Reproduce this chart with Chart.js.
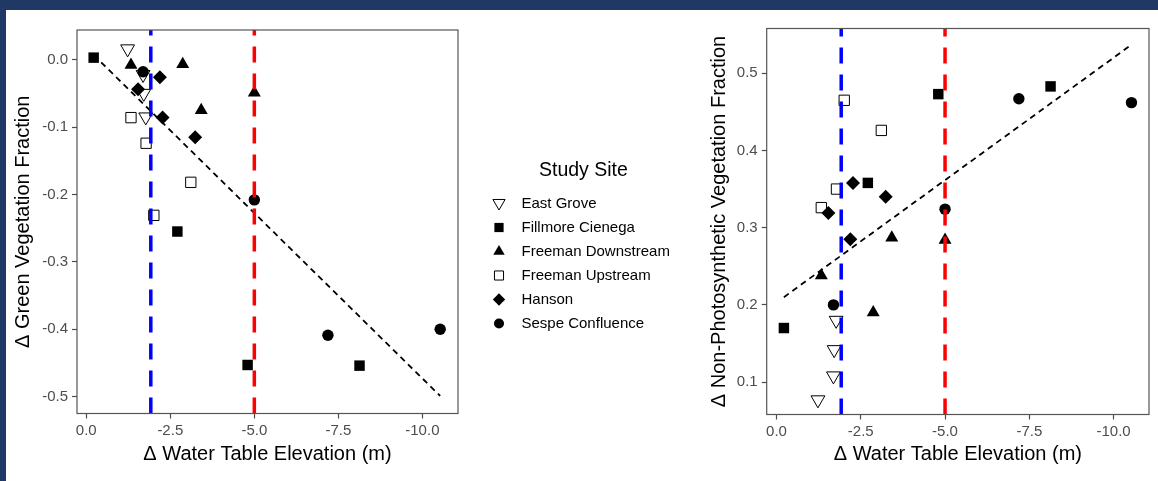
<!DOCTYPE html>
<html>
<head>
<meta charset="utf-8">
<script src="https://cdn.jsdelivr.net/npm/chart.js@4.4.1/dist/chart.umd.min.js"></script>
<style>
  html, body { margin: 0; padding: 0; background: #1F3864; }
  #page { position: absolute; left: 0; top: 0; width: 1158px; height: 481px; background: #1F3864; overflow: hidden; }
  #sheet { position: absolute; left: 6px; top: 10px; width: 1152px; height: 471px; background: #ffffff; }
  canvas { position: absolute; top: 0; }
  #graficoGV { left: 0; }
  #graficoNPV { left: 690px; }
</style>
</head>
<body>
<div id="page">
  <div id="sheet"></div>
  <canvas id="graficoGV" width="690" height="481"></canvas>
  <canvas id="graficoNPV" width="468" height="481"></canvas>
</div>
<script>
// dados (variação do nível freático, m)
const sites = ['East Grove', 'Fillmore Cienega', 'Freeman Downstream', 'Freeman Upstream', 'Hanson', 'Sespe Confluence'];

const xEastGrove = [-1.23, -1.69, -1.71, -1.77];
const xFillmore = [-0.22, -2.71, -4.80, -8.13];
const xFreemanDown = [-1.33, -2.87, -3.42, -5.00];
const xFreemanUp = [-1.33, -1.78, -2.01, -3.11];
const xHanson = [-1.54, -2.19, -2.27, -3.24];
const xSespe = [-1.69, -5.00, -7.19, -10.53];

// Δ Green Vegetation Fraction
const gvEastGrove = [0.016, -0.022, -0.050, -0.085];
const gvFillmore = [0.003, -0.255, -0.453, -0.454];
const gvFreemanDown = [-0.008, -0.007, -0.075, -0.049];
const gvFreemanUp = [-0.086, -0.124, -0.231, -0.182];
const gvHanson = [-0.044, -0.026, -0.086, -0.115];
const gvSespe = [-0.018, -0.208, -0.409, -0.400];

// Δ Non-Photosynthetic Vegetation Fraction
const npvEastGrove = [0.077, 0.108, 0.142, 0.180];
const npvFillmore = [0.170, 0.358, 0.473, 0.483];
const npvFreemanDown = [0.238, 0.190, 0.287, 0.284];
const npvFreemanUp = [0.326, 0.350, 0.465, 0.426];
const npvHanson = [0.319, 0.285, 0.358, 0.340];
const npvSespe = [0.200, 0.324, 0.467, 0.462];

// linhas de tendência (extremos)
const fitX = [-0.22, -10.53];
const gvFitY = [0.007, -0.499];
const npvFitY = [0.210, 0.537];

// limiares verticais
const thresholds = [-1.92, -5.0];

const xTicks = [0, -2.5, -5, -7.5, -10];
const gvTicks = [0, -0.1, -0.2, -0.3, -0.4, -0.5];
const npvTicks = [0.1, 0.2, 0.3, 0.4, 0.5];

const FONTE = "'Liberation Sans', Arial, sans-serif";
const CINZA = '#4d4d4d';

const siteX = [xEastGrove, xFillmore, xFreemanDown, xFreemanUp, xHanson, xSespe];
const siteGV = [gvEastGrove, gvFillmore, gvFreemanDown, gvFreemanUp, gvHanson, gvSespe];
const siteNPV = [npvEastGrove, npvFillmore, npvFreemanDown, npvFreemanUp, npvHanson, npvSespe];

const estilos = [
    { pointStyle: 'triangle', rotation: 180, radius: 8, fill: 'rgba(0,0,0,0)', borderWidth: 1 },
    { pointStyle: 'rect', rotation: 0, radius: 7.4, fill: '#000', borderWidth: 0 },
    { pointStyle: 'triangle', rotation: 0, radius: 7.5, fill: '#000', borderWidth: 0 },
    { pointStyle: 'rect', rotation: 0, radius: 7.3, fill: 'rgba(0,0,0,0)', borderWidth: 1 },
    { pointStyle: 'rectRot', rotation: 0, radius: 7, fill: '#000', borderWidth: 0 },
    { pointStyle: 'circle', rotation: 0, radius: 5.7, fill: '#000', borderWidth: 0 }
];
const coresLimiar = ['#0000FF', '#FF0000'];

const molduraPlugin = {
    id: 'moldura',
    afterDraw(chart) {
        const a = chart.chartArea;
        const ctx = chart.ctx;
        ctx.save();
        ctx.strokeStyle = '#555555';
        ctx.lineWidth = 1.2;
        ctx.strokeRect(a.left, a.top, a.right - a.left, a.bottom - a.top);
        ctx.restore();
    }
};

const legendaPlugin = {
    id: 'legendaSites',
    afterDraw(chart) {
        const ctx = chart.ctx;
        const pos = { titleX: 539, titleY: 171, symX: 499, textX: 521.5, ys: [203, 227.5, 251.5, 275.5, 299.5, 323.5] };
        ctx.save();
        ctx.fillStyle = '#000';
        ctx.textBaseline = 'middle';
        ctx.font = '19.5px ' + FONTE;
        ctx.fillText('Study Site', pos.titleX, pos.titleY);
        ctx.font = '15px ' + FONTE;
        sites.forEach((nome, i) => {
            const e = estilos[i];
            ctx.fillStyle = e.fill;
            ctx.strokeStyle = '#000';
            ctx.lineWidth = e.borderWidth;
            Chart.helpers.drawPoint(ctx, {
                pointStyle: e.pointStyle,
                rotation: e.rotation,
                radius: e.radius * 0.88,
                borderWidth: e.borderWidth
            }, pos.symX, pos.ys[i]);
            ctx.fillStyle = '#000';
            ctx.fillText(nome, pos.textX, pos.ys[i] + 0.5);
        });
        ctx.restore();
    }
};

function criarGrafico(canvasId, yPorSite, fitY, yTicks, yMin, yMax, xMin, xMax, yTitulo, geo, plugins) {
    const ctx = document.getElementById(canvasId).getContext('2d');

    const datasets = [];
    thresholds.forEach((t, i) => {
        datasets.push({
            label: 'limiar ' + t,
            data: [{ x: t, y: yMin }, { x: t, y: yMax }],
            showLine: true,
            borderColor: coresLimiar[i],
            borderWidth: 3.5,
            borderDash: [16, 11],
            pointRadius: 0,
            clip: 0,
            order: 0
        });
    });
    datasets.push({
        label: 'tendencia',
        data: fitX.map((x, i) => ({ x: x, y: fitY[i] })),
        showLine: true,
        borderColor: '#000',
        borderWidth: 1.8,
        borderDash: [6, 4.5],
        pointRadius: 0,
        order: 1
    });
    sites.forEach((nome, i) => {
        const e = estilos[i];
        datasets.push({
            label: nome,
            data: siteX[i].map((x, j) => ({ x: x, y: yPorSite[i][j] })),
            showLine: false,
            pointStyle: e.pointStyle,
            pointRotation: e.rotation,
            pointRadius: e.radius,
            pointHoverRadius: e.radius,
            backgroundColor: e.fill,
            borderColor: '#000',
            borderWidth: e.borderWidth,
            clip: false,
            order: 2
        });
    });

    return new Chart(ctx, {
        type: 'scatter',
        data: { datasets: datasets },
        options: {
            responsive: false,
            animation: false,
            devicePixelRatio: 1,
            layout: { padding: { left: 0, top: geo.padTop, right: geo.padRight, bottom: 0 } },
            plugins: { legend: { display: false }, tooltip: { enabled: false } },
            scales: {
                x: {
                    type: 'linear',
                    reverse: true,
                    min: xMin,
                    max: xMax,
                    afterBuildTicks: (s) => { s.ticks = xTicks.map(v => ({ value: v })); },
                    afterFit: (s) => { s.height = geo.xAxisHeight; },
                    grid: { display: true, drawOnChartArea: false, drawTicks: true, tickLength: 5, tickColor: CINZA, tickWidth: 1.2 },
                    border: { display: false },
                    ticks: { color: CINZA, font: { family: FONTE, size: 15 }, padding: 3, maxRotation: 0, autoSkip: false, callback: (v) => Number(v).toFixed(1) },
                    title: { display: true, text: 'Δ Water Table Elevation (m)', color: '#000', font: { family: FONTE, size: 20 }, padding: { top: 0, bottom: 15 } }
                },
                y: {
                    type: 'linear',
                    min: yMin,
                    max: yMax,
                    afterBuildTicks: (s) => { s.ticks = yTicks.map(v => ({ value: v })); },
                    afterFit: (s) => { s.width = geo.yAxisWidth; },
                    grid: { display: true, drawOnChartArea: false, drawTicks: true, tickLength: 5, tickColor: CINZA, tickWidth: 1.2 },
                    border: { display: false },
                    ticks: { color: CINZA, font: { family: FONTE, size: 15 }, padding: 4, autoSkip: false, callback: (v) => Number(v).toFixed(1) },
                    title: { display: true, text: yTitulo, color: '#000', font: { family: FONTE, size: 20 }, padding: { top: geo.yTitlePad, bottom: 0 } }
                }
            }
        },
        plugins: plugins
    });
}

Chart.defaults.font.family = FONTE;

criarGrafico('graficoGV', siteGV, gvFitY, gvTicks, -0.525, 0.044, -11.06, 0.276,
    'Δ Green Vegetation Fraction',
    { padTop: 30, padRight: 232, xAxisHeight: 67.5, yAxisWidth: 77, yTitlePad: 11.5 },
    [molduraPlugin, legendaPlugin]);

criarGrafico('graficoNPV', siteNPV, npvFitY, npvTicks, 0.058, 0.558, -11.05, 0.29,
    'Δ Non-Photosynthetic Vegetation Fraction',
    { padTop: 28.5, padRight: 5, xAxisHeight: 66.5, yAxisWidth: 76.7, yTitlePad: 17 },
    [molduraPlugin]);
</script>
</body>
</html>
